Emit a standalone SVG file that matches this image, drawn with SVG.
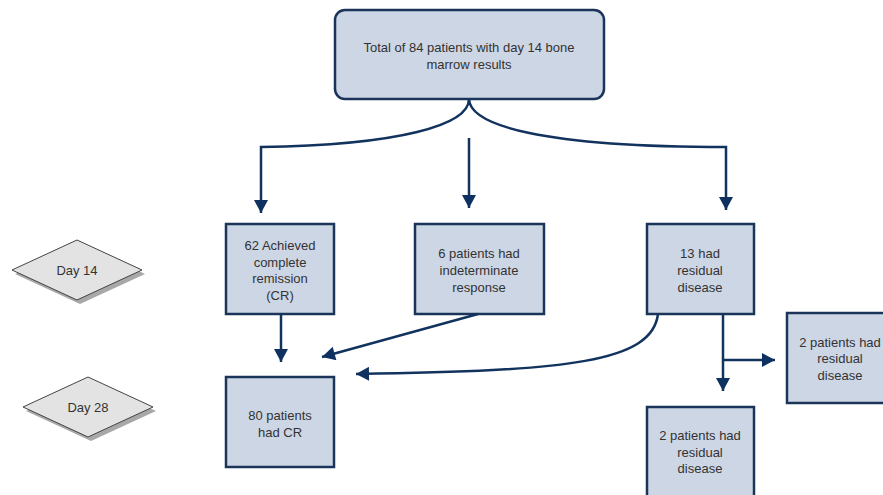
<svg xmlns="http://www.w3.org/2000/svg" width="883" height="495" viewBox="0 0 883 495">
<style>
.box{fill:#cdd6e5;stroke:#1b355a;stroke-width:2.5}
.dia{fill:#e3e3e3;stroke:#444;stroke-width:1}
.sh{fill:#a8a8a8}
text{font-family:"Liberation Sans",Arial,sans-serif;font-size:13px;fill:#333;text-anchor:middle}
.c{fill:none;stroke:#12335e;stroke-width:2.5}
</style>
<defs>
<marker id="ah" markerUnits="userSpaceOnUse" markerWidth="14" markerHeight="14" viewBox="0 0 13 14" refX="13" refY="7" orient="auto">
<path d="M0,0 L13,7 L0,14 z" fill="#0f3160"/>
</marker>
</defs>
<rect width="883" height="495" fill="#fff"/>
<g id="day14">
<polygon class="sh" points="15,274 80,244 145,274 80,304"/>
<polygon class="dia" points="12,270 77,240 142,270 77,300"/>
<text x="77" y="275">Day 14</text>
</g>
<g id="day28">
<polygon class="sh" points="26,411 91,381 156,411 91,441"/>
<polygon class="dia" points="23,407 88,377 153,407 88,437"/>
<text x="88" y="412">Day 28</text>
</g>
<g id="total">
<rect class="box" x="335" y="10" width="269" height="89" rx="10"/>
<text x="469" y="52">Total of 84 patients with day 14 bone</text>
<text x="469" y="69">marrow results</text>
</g>
<g id="cr62">
<rect class="box" x="226" y="224" width="108" height="90"/>
<text x="280" y="250">62 Achieved</text>
<text x="280" y="267">complete</text>
<text x="280" y="283">remission</text>
<text x="280" y="300">(CR)</text>
</g>
<g id="indet">
<rect class="box" x="415" y="224" width="129" height="90"/>
<text x="479" y="258">6 patients had</text>
<text x="479" y="275">indeterminate</text>
<text x="479" y="292">response</text>
</g>
<g id="resid13">
<rect class="box" x="647" y="224" width="107" height="90"/>
<text x="700" y="258">13 had</text>
<text x="700" y="275">residual</text>
<text x="700" y="292">disease</text>
</g>
<g id="cr80">
<rect class="box" x="226" y="377" width="108" height="90"/>
<text x="280" y="420">80 patients</text>
<text x="280" y="437">had CR</text>
</g>
<g id="residRight">
<rect class="box" x="787" y="313" width="107" height="90"/>
<text x="840" y="347">2 patients had</text>
<text x="840" y="363">residual</text>
<text x="840" y="380">disease</text>
</g>
<g id="residBottom">
<rect class="box" x="647" y="407" width="107" height="92"/>
<text x="700" y="440">2 patients had</text>
<text x="700" y="457">residual</text>
<text x="700" y="473">disease</text>
</g>
<g id="connectors">
<path class="c" d="M469,99 C469,125 400,145 261,147 L261,213" marker-end="url(#ah)"/>
<path class="c" d="M469,99 C470,125 540,147 726,147 L726,210" marker-end="url(#ah)"/>
<path class="c" d="M469,138 L469,208" marker-end="url(#ah)"/>
<path class="c" d="M281,314 L281,362" marker-end="url(#ah)"/>
<path class="c" d="M478,314 L322,357" marker-end="url(#ah)"/>
<path class="c" d="M658,314 C652,362 570,371 356,374" marker-end="url(#ah)"/>
<path class="c" d="M723,314 L723,391" marker-end="url(#ah)"/>
<path class="c" d="M723,360 L775,360" marker-end="url(#ah)"/>
</g>
</svg>
